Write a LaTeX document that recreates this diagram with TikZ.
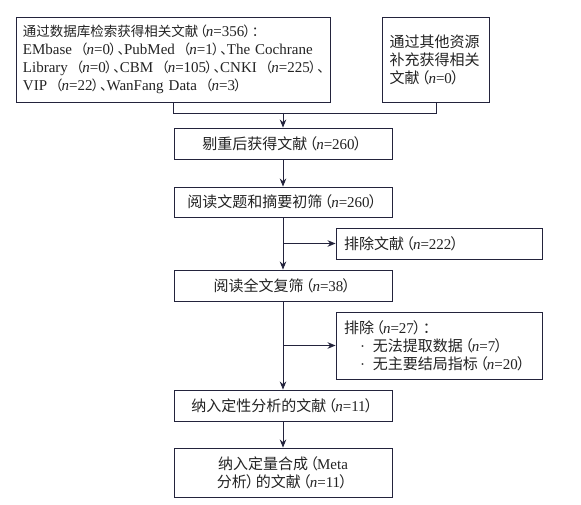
\documentclass[tikz,border=0pt]{standalone}
\usepackage{fontspec}
\setmainfont{Liberation Serif}
\newfontfamily\zhfont{Noto Sans CJK SC}
\newfontfamily\zhsmall[Scale=0.9]{Noto Sans CJK SC}
\newcommand\zh[1]{{\zhfont #1}}
\newcommand\nn[1]{\textit{n}=#1}
\newcommand\lp{\kern-5pt\zh{（}\kern-1pt}
\newcommand\rp{\kern-1pt\zh{）}\kern-5pt}
\newcommand\dun{\zh{、}\kern-7pt}
\newcommand\zhcolon{\zh{：}\kern-6pt}
\newcommand\gapsp{\hspace{7pt}}
\usetikzlibrary{arrows.meta}
\definecolor{linec}{RGB}{35,35,60}
\definecolor{textc}{RGB}{35,35,35}
\begin{document}
\begin{tikzpicture}[x=1pt,y=-1pt,
  box/.style={draw=linec, line width=0.9pt, inner sep=0pt, text=textc,
    font=\fontsize{15}{18}\selectfont, minimum height=31pt},
  midbox/.style={box, minimum width=218pt, align=center},
  leftbox/.style={box, align=left},
  arr/.style={draw=linec, line width=0.9pt, -{Stealth[length=8pt,width=6.5pt]}},
  conn/.style={draw=linec, line width=0.9pt}]
\useasboundingbox (0,0) rectangle (581,505);
\fill[white] (0,0) rectangle (581,505);

\node[leftbox, minimum width=314pt, minimum height=85pt, text width=300pt,
  font=\fontsize{15}{18.2}\selectfont\let\zhfont\zhsmall] (b1) at (173,59.5)
 {\mbox{\zh{通过数据库检索获得相关文献}\lp\nn{356}\rp\zhcolon}\\
  \mbox{EMbase\gapsp\lp\nn{0}\rp\dun PubMed\gapsp\lp\nn{1}\rp\dun The Cochrane}\\
  \mbox{Library\gapsp\lp\nn{0}\rp\dun CBM\gapsp\lp\nn{105}\rp\dun CNKI\gapsp\lp\nn{225}\rp\dun}\\
  \mbox{VIP\gapsp\lp\nn{22}\rp\dun WanFang Data\gapsp\lp\nn{3}\rp}};
\node[leftbox, minimum width=107pt, minimum height=85pt, text width=93pt] (b2) at (436,59.5)
 {\zh{通过其他资源}\\\zh{补充获得相关}\\\mbox{\zh{文献}\lp\nn{0}\rp}};

\node[midbox] (b3) at (283,143.5) {\zh{剔重后获得文献}\lp\nn{260}\rp};
\node[midbox, minimum height=30pt] (b4) at (283,202) {\zh{阅读文题和摘要初筛}\lp\nn{260}\rp};
\node[midbox] (b5) at (283,285.5) {\zh{阅读全文复筛}\lp\nn{38}\rp};
\node[midbox] (b6) at (283,405.5) {\zh{纳入定性分析的文献}\lp\nn{11}\rp};
\node[midbox, minimum height=49pt] (b7) at (283,472.5) {\zh{纳入定量合成}\lp Meta\\\zh{分析}\rp\zh{的文献}\lp\nn{11}\rp};

\node[leftbox, minimum width=206pt, text width=190pt] (e1) at (439,243.5) {\zh{排除文献}\lp\nn{222}\rp};
\node[leftbox, minimum width=206pt, minimum height=67pt, text width=190pt] (e2) at (439,345.5)
 {\zh{排除}\lp\nn{27}\rp\zhcolon\\
  \hspace*{16pt}·\hspace{8pt}\zh{无法提取数据}\lp\nn{7}\rp\\
  \hspace*{16pt}·\hspace{8pt}\zh{无主要结局指标}\lp\nn{20}\rp};

\coordinate (mc) at (283,113);
\draw[conn] (b1.south) -- (b1.south |- mc) -- (b2.south |- mc) -- (b2.south);
\draw[arr] (mc) -- (b3.north);
\draw[arr] (b3) -- (b4);
\draw[arr] (b4) -- (b5);
\draw[arr] (b5) -- (b6);
\draw[arr] (b6) -- (b7);
\draw[arr] (b4.south |- e1.west) -- (e1.west);
\draw[arr] (b5.south |- e2.west) -- (e2.west);
\end{tikzpicture}
\end{document}
